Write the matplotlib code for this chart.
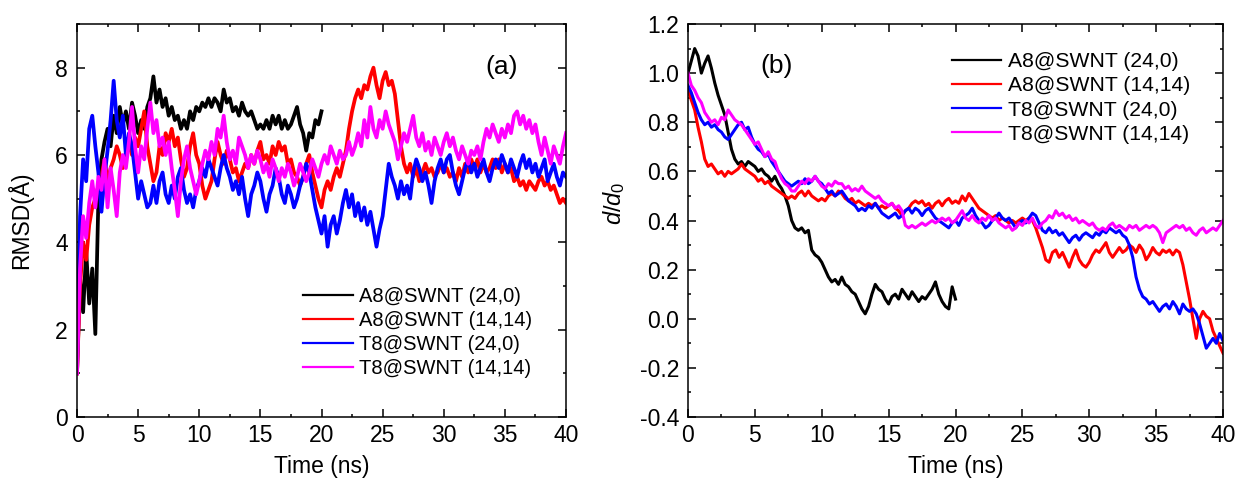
import matplotlib
matplotlib.use("Agg")
import matplotlib.pyplot as plt
import numpy as np
from matplotlib.ticker import MultipleLocator, FormatStrFormatter

plt.rcParams['font.family'] = ['Liberation Sans', 'DejaVu Sans']
plt.rcParams['axes.unicode_minus'] = False
plt.rcParams['mathtext.fontset'] = 'custom'
plt.rcParams['mathtext.rm'] = 'Liberation Sans'
plt.rcParams['mathtext.it'] = 'Liberation Sans:italic'

dt = 0.25  # ns between samples

labels = ["A8@SWNT (24,0)", "A8@SWNT (14,14)", "T8@SWNT (24,0)", "T8@SWNT (14,14)"]
colors = ["#000000", "#ff0000", "#0000ff", "#ff00ff"]

# panel (a): RMSD (Angstrom)
rmsd_a8_240 = [1.0, 3.2, 2.4, 3.8, 2.6, 3.4, 1.9, 5.0, 5.9, 6.3, 6.6, 6.2, 6.9, 6.5, 7.1, 6.7,
               7.0, 6.6, 7.2, 6.9, 6.5, 6.8, 6.6, 7.1, 7.3, 7.8, 7.2, 7.5, 7.1, 7.3, 6.9, 7.1,
               6.8, 6.9, 6.6, 6.8, 6.6, 7.0, 6.8, 7.1, 7.0, 7.2, 7.1, 7.3, 7.1, 7.3, 7.2, 7.0,
               7.5, 7.2, 7.3, 7.0, 7.1, 6.9, 7.2, 7.0, 6.9, 7.0, 6.8, 6.6, 6.7, 6.6, 6.8, 6.6,
               6.9, 6.7, 6.9, 6.6, 6.8, 6.6, 6.7, 6.9, 7.1, 6.7, 6.5, 6.1, 6.5, 6.4, 6.8, 6.7, 7.0]
rmsd_a8_1414 = [1.0, 3.0, 4.0, 3.6, 4.4, 4.8, 5.0, 5.3, 5.5, 5.9, 5.4, 5.7, 5.9, 6.2, 6.0, 5.7,
                5.9, 6.3, 6.0, 6.4, 6.2, 6.6, 7.0, 6.2, 5.8, 5.4, 5.6, 6.2, 6.0, 6.5, 6.3, 6.6,
                6.2, 6.4, 5.9, 5.5, 5.7, 6.2, 6.5, 6.0, 5.8, 5.3, 5.0, 5.2, 5.4, 5.9, 6.3, 6.0,
                5.8, 6.1, 5.9, 5.6, 5.7, 5.4, 5.6, 5.8, 5.7, 6.0, 5.8, 6.1, 6.3, 5.9, 6.0, 5.8,
                6.2, 6.0, 6.3, 6.1, 6.2, 5.8, 5.9, 5.6, 5.5, 5.3, 5.5, 5.8, 6.0, 5.6, 5.3, 5.0,
                4.8, 5.2, 5.4, 5.2, 5.5, 5.7, 5.5, 5.8, 6.1, 6.6, 7.0, 7.3, 7.5, 7.3, 7.6, 7.5,
                7.8, 8.0, 7.6, 7.3, 7.7, 7.9, 7.6, 7.7, 7.4, 6.8, 6.2, 5.8, 5.6, 5.8, 5.5, 5.7,
                5.4, 5.6, 5.8, 5.6, 5.7, 5.5, 5.6, 5.8, 5.6, 5.7, 5.5, 5.6, 5.4, 5.7, 5.5, 5.8,
                5.6, 5.9, 5.7, 5.9, 5.6, 5.8, 5.6, 5.7, 5.9, 5.7, 5.9, 5.6, 5.8, 5.6, 5.7, 5.4,
                5.5, 5.3, 5.4, 5.2, 5.4, 5.3, 5.2, 5.4, 5.5, 5.3, 5.4, 5.2, 5.3, 5.1, 4.9, 5.0, 4.9]
rmsd_t8_240 = [1.2, 4.6, 5.9, 5.4, 6.6, 6.9, 6.2, 5.6, 4.7, 5.5, 6.1, 6.8, 7.7, 6.8, 6.4, 6.9,
               6.0, 6.5, 6.2, 5.6, 5.0, 5.4, 5.1, 4.8, 4.9, 5.3, 4.9, 5.4, 5.6, 5.1, 4.9, 5.3,
               5.0, 5.5, 5.7, 5.2, 4.9, 5.1, 4.8, 5.2, 5.4, 5.7, 5.5, 5.9, 5.7, 5.5, 5.3, 5.7,
               6.0, 5.7, 5.5, 5.2, 5.4, 5.1, 5.5, 5.0, 4.6, 5.1, 5.3, 5.6, 5.4, 5.0, 4.7, 5.1,
               5.3, 5.7, 5.5, 5.1, 4.9, 5.3, 5.1, 4.8, 5.0, 5.3, 5.5, 5.8, 5.6, 5.2, 4.8, 4.5,
               4.2, 4.6, 3.9, 4.4, 4.6, 4.2, 4.5, 4.9, 5.2, 4.8, 5.1, 4.6, 4.9, 4.5, 4.8, 4.4,
               4.7, 4.3, 3.9, 4.3, 4.6, 5.2, 5.8, 5.5, 5.3, 5.0, 5.4, 5.1, 5.3, 5.0, 5.6, 5.9,
               5.7, 5.4, 5.6, 5.3, 4.9, 5.4, 5.7, 5.9, 5.6, 5.9, 6.0, 5.6, 5.3, 5.1, 5.4, 5.7,
               5.9, 5.6, 5.8, 5.5, 5.7, 5.9, 5.6, 5.4, 5.7, 5.9, 5.7, 6.0, 5.8, 5.6, 5.9, 5.7,
               5.5, 5.8, 6.0, 5.7, 5.9, 5.6, 5.8, 5.5, 5.7, 5.9, 5.4, 5.6, 5.8, 5.5, 5.3, 5.6, 5.5]
rmsd_t8_1414 = [1.0, 3.4, 4.6, 4.1, 4.9, 5.4, 4.8, 5.5, 5.2, 5.9, 4.8, 5.7, 5.2, 4.6, 5.6, 6.0,
                5.7, 6.3, 7.1, 6.2, 5.6, 6.2, 5.9, 6.6, 7.2, 6.5, 6.8, 6.2, 6.4, 6.0, 6.3, 5.7,
                5.2, 4.6, 5.4, 5.9, 6.2, 5.7, 5.4, 5.1, 5.4, 5.8, 6.1, 5.9, 6.3, 6.0, 6.6, 6.4,
                6.9, 6.3, 5.9, 6.1, 5.8, 6.4, 6.2, 6.0, 5.7, 6.0, 5.8, 6.1, 5.9, 5.6, 5.8, 5.5,
                5.9, 5.7, 5.4, 5.7, 5.5, 5.8, 5.6, 5.3, 5.5, 5.8, 5.6, 5.4, 5.6, 5.9, 5.7, 5.5,
                5.8, 6.0, 5.8, 6.2, 6.0, 5.8, 6.1, 5.9, 6.0, 6.3, 6.0, 6.2, 6.5, 6.2, 6.8, 6.4,
                7.1, 6.6, 6.4, 6.8, 6.6, 7.0, 6.7, 6.5, 6.3, 5.9, 6.2, 6.5, 6.3, 6.6, 6.9, 6.4,
                6.2, 6.5, 6.1, 6.3, 6.0, 6.4, 6.2, 6.0, 6.3, 6.5, 6.2, 6.4, 6.1, 5.9, 6.2, 6.0,
                5.8, 6.1, 6.0, 6.2, 5.9, 6.3, 6.6, 6.4, 6.7, 6.5, 6.3, 6.6, 6.4, 6.7, 6.5, 6.9,
                7.0, 6.7, 6.9, 6.6, 6.8, 6.5, 6.7, 6.3, 6.0, 6.4, 6.1, 5.8, 6.2, 6.0, 5.8, 6.2, 6.5]

# panel (b): d/d0
dd0_a8_240 = [1.00, 1.05, 1.10, 1.07, 1.00, 1.04, 1.07, 1.02, 0.96, 0.91, 0.87, 0.83, 0.76, 0.69,
              0.65, 0.63, 0.64, 0.62, 0.64, 0.63, 0.62, 0.60, 0.61, 0.59, 0.58, 0.56, 0.58, 0.55,
              0.53, 0.50, 0.46, 0.40, 0.37, 0.36, 0.37, 0.35, 0.36, 0.28, 0.26, 0.25, 0.23, 0.20,
              0.17, 0.15, 0.16, 0.14, 0.17, 0.14, 0.13, 0.11, 0.10, 0.07, 0.04, 0.02, 0.05, 0.10,
              0.14, 0.12, 0.11, 0.08, 0.06, 0.09, 0.10, 0.08, 0.12, 0.10, 0.08, 0.11, 0.09, 0.07,
              0.09, 0.08, 0.10, 0.12, 0.15, 0.10, 0.07, 0.05, 0.04, 0.13, 0.08]
dd0_a8_1414 = [0.93, 0.89, 0.85, 0.78, 0.72, 0.65, 0.62, 0.63, 0.61, 0.59, 0.60, 0.58, 0.60, 0.59,
               0.60, 0.61, 0.63, 0.61, 0.60, 0.59, 0.58, 0.56, 0.57, 0.55, 0.56, 0.54, 0.53, 0.52,
               0.51, 0.50, 0.49, 0.50, 0.49, 0.51, 0.52, 0.50, 0.52, 0.50, 0.49, 0.48, 0.49, 0.48,
               0.50, 0.51, 0.50, 0.52, 0.51, 0.49, 0.48, 0.49, 0.47, 0.48, 0.47, 0.46, 0.47, 0.46,
               0.47, 0.45, 0.46, 0.45, 0.46, 0.47, 0.45, 0.44, 0.42, 0.44, 0.45, 0.47, 0.48, 0.47,
               0.48, 0.46, 0.47, 0.45, 0.47, 0.48, 0.46, 0.48, 0.49, 0.47, 0.48, 0.47, 0.50, 0.48,
               0.51, 0.49, 0.47, 0.45, 0.44, 0.43, 0.42, 0.41, 0.42, 0.40, 0.41, 0.40, 0.39, 0.40,
               0.39, 0.40, 0.41, 0.40, 0.41, 0.40, 0.37, 0.33, 0.29, 0.24, 0.23, 0.27, 0.28, 0.25,
               0.27, 0.24, 0.21, 0.25, 0.28, 0.24, 0.22, 0.21, 0.23, 0.26, 0.28, 0.27, 0.29, 0.31,
               0.27, 0.25, 0.27, 0.29, 0.27, 0.28, 0.30, 0.29, 0.27, 0.30, 0.28, 0.24, 0.26, 0.29,
               0.27, 0.26, 0.28, 0.27, 0.28, 0.26, 0.28, 0.27, 0.22, 0.15, 0.08, 0.00, -0.08, 0.00,
               0.03, 0.01, 0.00, -0.05, -0.08, -0.11, -0.14]
dd0_t8_240 = [0.95, 0.92, 0.88, 0.84, 0.81, 0.79, 0.80, 0.78, 0.79, 0.77, 0.76, 0.74, 0.73, 0.75,
              0.77, 0.79, 0.80, 0.77, 0.78, 0.74, 0.71, 0.69, 0.68, 0.66, 0.67, 0.64, 0.62, 0.60,
              0.58, 0.56, 0.55, 0.54, 0.55, 0.56, 0.55, 0.57, 0.55, 0.56, 0.58, 0.56, 0.55, 0.53,
              0.51, 0.52, 0.50, 0.51, 0.52, 0.50, 0.48, 0.47, 0.46, 0.44, 0.45, 0.44, 0.46, 0.45,
              0.47, 0.45, 0.43, 0.42, 0.41, 0.42, 0.43, 0.41, 0.42, 0.44, 0.45, 0.43, 0.45, 0.44,
              0.42, 0.44, 0.45, 0.43, 0.41, 0.40, 0.39, 0.38, 0.37, 0.39, 0.40, 0.38, 0.41, 0.42,
              0.43, 0.45, 0.42, 0.40, 0.39, 0.37, 0.38, 0.40, 0.41, 0.43, 0.41, 0.40, 0.41, 0.39,
              0.37, 0.39, 0.40, 0.39, 0.41, 0.43, 0.42, 0.39, 0.36, 0.35, 0.37, 0.35, 0.36, 0.34,
              0.35, 0.33, 0.31, 0.33, 0.34, 0.32, 0.34, 0.35, 0.34, 0.33, 0.35, 0.34, 0.36, 0.35,
              0.37, 0.36, 0.35, 0.36, 0.34, 0.33, 0.30, 0.25, 0.17, 0.12, 0.09, 0.08, 0.06, 0.07,
              0.05, 0.03, 0.05, 0.06, 0.04, 0.07, 0.05, 0.02, 0.06, 0.04, 0.03, 0.04, 0.02, -0.02,
              -0.07, -0.12, -0.10, -0.08, -0.10, -0.06, -0.09]
dd0_t8_1414 = [1.00, 0.95, 0.93, 0.90, 0.88, 0.84, 0.82, 0.80, 0.81, 0.79, 0.82, 0.81, 0.85, 0.83,
               0.81, 0.80, 0.79, 0.77, 0.75, 0.73, 0.71, 0.72, 0.69, 0.66, 0.68, 0.65, 0.64, 0.60,
               0.57, 0.55, 0.54, 0.52, 0.52, 0.54, 0.56, 0.55, 0.57, 0.56, 0.58, 0.56, 0.54, 0.53,
               0.55, 0.54, 0.56, 0.55, 0.55, 0.53, 0.54, 0.52, 0.53, 0.52, 0.54, 0.52, 0.51, 0.50,
               0.49, 0.50, 0.48, 0.47, 0.46, 0.47, 0.45, 0.46, 0.44, 0.38, 0.37, 0.38, 0.37, 0.38,
               0.39, 0.38, 0.39, 0.40, 0.39, 0.40, 0.41, 0.40, 0.41, 0.39, 0.40, 0.42, 0.44, 0.41,
               0.40, 0.42, 0.40, 0.39, 0.41, 0.40, 0.42, 0.40, 0.41, 0.39, 0.38, 0.37, 0.38, 0.36,
               0.37, 0.39, 0.38, 0.40, 0.39, 0.41, 0.38, 0.37, 0.39, 0.40, 0.42, 0.41, 0.44, 0.42,
               0.43, 0.41, 0.42, 0.40, 0.41, 0.39, 0.40, 0.39, 0.38, 0.39, 0.37, 0.36, 0.37, 0.36,
               0.38, 0.39, 0.37, 0.38, 0.37, 0.36, 0.38, 0.37, 0.38, 0.36, 0.37, 0.38, 0.37, 0.38,
               0.37, 0.35, 0.31, 0.35, 0.36, 0.37, 0.38, 0.37, 0.38, 0.36, 0.37, 0.35, 0.34, 0.36,
               0.37, 0.35, 0.36, 0.37, 0.36, 0.38, 0.40]

panel_a = [rmsd_a8_240, rmsd_a8_1414, rmsd_t8_240, rmsd_t8_1414]
panel_b = [dd0_a8_240, dd0_a8_1414, dd0_t8_240, dd0_t8_1414]

W, H = 1239, 487
fig = plt.figure(figsize=(W/100, H/100), dpi=100)
ax1 = fig.add_axes([77/W, 1-417/H, 489/W, 393/H])
ax2 = fig.add_axes([688/W, 1-417/H, 535/W, 393/H])

for vals, c, lab in zip(panel_a, colors, labels):
    t = np.arange(len(vals)) * dt
    ax1.plot(t, vals, color=c, lw=2.7, label=lab)
for vals, c, lab in zip(panel_b, colors, labels):
    t = np.arange(len(vals)) * dt
    ax2.plot(t, vals, color=c, lw=2.2, label=lab)

ax1.set_xlim(0, 40)
ax1.set_ylim(0, 9)
ax1.yaxis.set_major_locator(MultipleLocator(2))
ax1.yaxis.set_minor_locator(MultipleLocator(1))
ax1.set_ylabel("RMSD(Å)", fontsize=16.5)
ax1.yaxis.set_label_coords(-0.090, 0.5)

ax2.set_xlim(0, 40)
ax2.set_ylim(-0.4, 1.2)
ax2.yaxis.set_major_locator(MultipleLocator(0.2))
ax2.yaxis.set_minor_locator(MultipleLocator(0.1))
ax2.yaxis.set_major_formatter(FormatStrFormatter('%.1f'))
ax2.set_ylabel(r"$d/d_{\mathrm{0}}$", fontsize=17)
ax2.yaxis.set_label_coords(-0.114, 0.545)

for ax in (ax1, ax2):
    ax.xaxis.set_major_locator(MultipleLocator(5))
    ax.xaxis.set_minor_locator(MultipleLocator(2.5))
    ax.set_xlabel("Time (ns)", fontsize=16.5, labelpad=6)
    ax.tick_params(which='both', direction='in', top=True, right=True, labelsize=16.5)
    ax.tick_params(axis='x', which='major', pad=5)
    ax.tick_params(axis='y', which='major', pad=6.5)
    ax.tick_params(which='major', length=5.5, width=1.1)
    ax.tick_params(which='minor', length=2.5, width=1.1)
    for s in ax.spines.values():
        s.set_linewidth(1.1)

leg1 = ax1.legend(loc='lower right', bbox_to_anchor=(1 - 34/489, 39/393), frameon=False,
                  fontsize=14.5, handlelength=2.45, labelspacing=0.25, handletextpad=0.3,
                  borderaxespad=0, borderpad=0)
leg2 = ax2.legend(loc='upper right', bbox_to_anchor=(1 - 33/535, 1 - 28/393), frameon=False,
                  fontsize=15.2, handlelength=2.35, labelspacing=0.25, handletextpad=0.3,
                  borderaxespad=0, borderpad=0)
for leg in (leg1, leg2):
    for ln in leg.get_lines():
        ln.set_linewidth(1.6)

ax1.text(0.869, 0.89, "(a)", transform=ax1.transAxes, fontsize=19, ha='center', va='center')
ax2.text(0.166, 0.893, "(b)", transform=ax2.transAxes, fontsize=19, ha='center', va='center')

fig.savefig("out.png", dpi=100)
